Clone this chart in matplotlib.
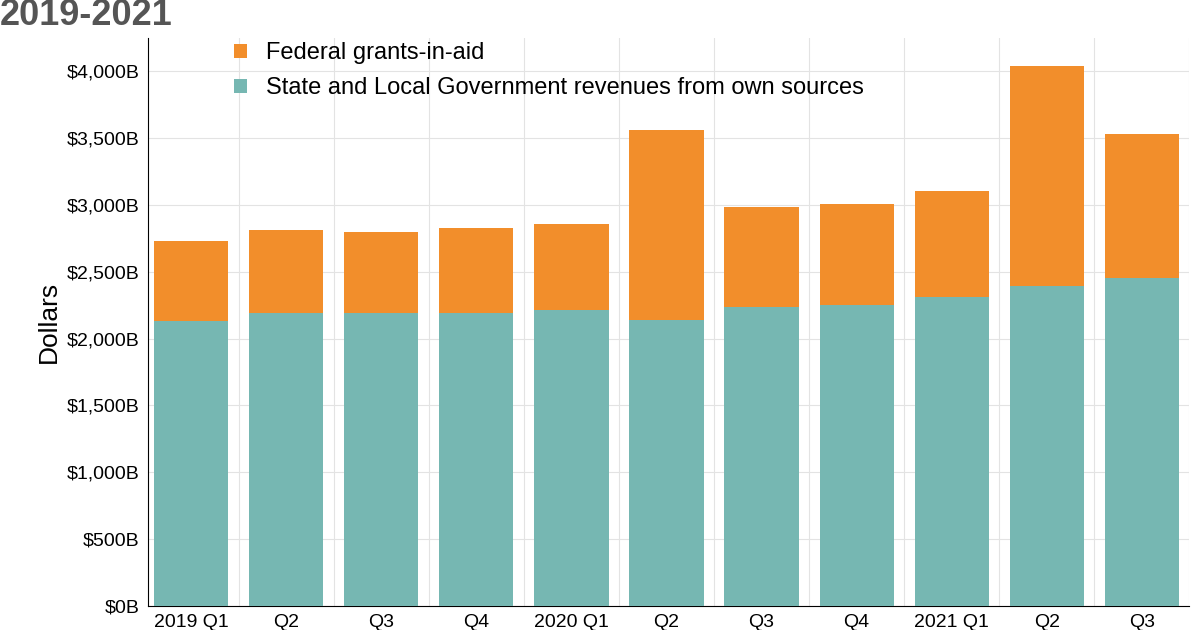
import numpy as np
import matplotlib.pyplot as plt

plt.rcParams['font.family'] = ['Liberation Sans', 'DejaVu Sans']

quarters = ['2019 Q1', 'Q2', 'Q3', 'Q4', '2020 Q1', 'Q2', 'Q3', 'Q4', '2021 Q1', 'Q2', 'Q3']
own_sources = [2135, 2195, 2195, 2195, 2217, 2142, 2240, 2255, 2315, 2397, 2457]
totals = [2727, 2809, 2801, 2824, 2854, 3558, 2981, 3004, 3101, 4037, 3528]
federal = [t - o for t, o in zip(totals, own_sources)]

teal = '#76B7B2'
orange = '#F28E2B'

fig = plt.figure(figsize=(12, 6.3), dpi=100)
ax = fig.add_axes([0.123, 0.038, 0.868, 0.902])

x = np.arange(len(quarters))
ax.bar(x, own_sources, 0.78, color=teal, label='State and Local Government revenues from own sources', zorder=3)
ax.bar(x, federal, 0.78, bottom=own_sources, color=orange, label='Federal grants-in-aid', zorder=3)

ax.set_xlim(-0.46, len(quarters) - 0.5)
ax.set_ylim(0, 4250)
ax.set_yticks(np.arange(0, 4001, 500))
ax.set_yticklabels(['$%sB' % format(v, ',') for v in range(0, 4001, 500)], fontsize=14)
ax.set_xticks(x)
ax.set_xticklabels(quarters, fontsize=14)
ax.tick_params(length=0, pad=6)
ax.grid(axis='y', color='#e3e3e3', lw=0.8, zorder=0)
for b in x + 0.5:
    ax.axvline(b, color='#e3e3e3', lw=0.8, zorder=0)
for s in ['top', 'right']:
    ax.spines[s].set_visible(False)
ax.set_ylabel('Dollars', fontsize=19)

h, l = ax.get_legend_handles_labels()
ax.legend(h[::-1], l[::-1], loc='upper left', bbox_to_anchor=(0.063, 1.03), frameon=False,
          fontsize=17, handlelength=0.55, handleheight=0.55, handletextpad=0.8, labelspacing=0.55)

fig.text(0.0, 0.975, '2019-2021', fontsize=26, fontweight='bold', color='#555555', va='center')

fig.savefig('out.png')
